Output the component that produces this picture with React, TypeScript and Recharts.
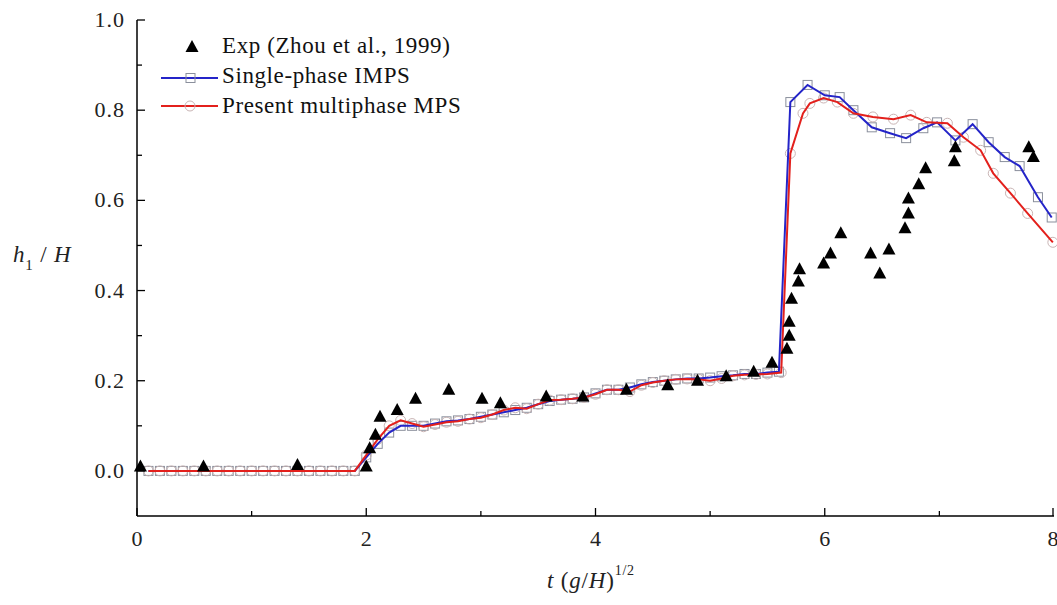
import React from "react";
import { ComposedChart, Scatter, XAxis, YAxis } from "recharts";

// Exp (Zhou et al., 1999)
const EXP_T = [
  0.03, 0.58, 1.4, 2.0, 2.03, 2.08, 2.12, 2.27, 2.43, 2.72, 3.01, 3.17, 3.57, 3.89,
  4.27, 4.63, 4.89, 5.14, 5.38, 5.54, 5.67, 5.69, 5.69, 5.71, 5.77, 5.78, 5.99, 6.05,
  6.14, 6.4, 6.48, 6.56, 6.7, 6.73, 6.73, 6.82, 6.88, 7.13, 7.14, 7.78, 7.82,
];
const EXP_H = [
  0.01, 0.01, 0.013, 0.01, 0.05, 0.08, 0.12, 0.135, 0.16, 0.18, 0.16, 0.15, 0.165, 0.165,
  0.18, 0.19, 0.2, 0.21, 0.22, 0.24, 0.271, 0.3, 0.331, 0.382, 0.42, 0.447, 0.46, 0.482,
  0.527, 0.482, 0.438, 0.491, 0.538, 0.571, 0.604, 0.636, 0.671, 0.687, 0.718, 0.718, 0.696,
];

// Single-phase IMPS
const IMPS_T = [
  0.1, 0.2, 0.3, 0.4, 0.5, 0.6, 0.7, 0.8, 0.9, 1.0, 1.1, 1.2, 1.3, 1.4, 1.5, 1.6, 1.7,
  1.8, 1.9, 2.0, 2.1, 2.2, 2.3, 2.4, 2.5, 2.6, 2.7, 2.8, 2.9, 3.0, 3.1, 3.2, 3.3, 3.4,
  3.5, 3.6, 3.7, 3.8, 3.9, 4.0, 4.1, 4.2, 4.3, 4.4, 4.5, 4.6, 4.7, 4.8, 4.9, 5.0, 5.1,
  5.2, 5.3, 5.4, 5.5, 5.6, 5.7, 5.85, 6.0, 6.13, 6.25, 6.41, 6.57, 6.71, 6.86, 6.98,
  7.14, 7.29, 7.43, 7.57, 7.7, 7.86, 7.98,
];
const IMPS_H = [
  0, 0, 0, 0, 0, 0, 0, 0, 0, 0, 0, 0, 0, 0, 0, 0, 0,
  0, 0, 0.03, 0.06, 0.085, 0.1, 0.1, 0.1, 0.105, 0.11, 0.112, 0.115, 0.12, 0.125, 0.13, 0.135, 0.14,
  0.148, 0.155, 0.158, 0.16, 0.163, 0.172, 0.18, 0.18, 0.185, 0.192, 0.197, 0.2, 0.203, 0.205, 0.205, 0.207, 0.21,
  0.212, 0.215, 0.215, 0.218, 0.22, 0.818, 0.856, 0.833, 0.829, 0.8, 0.762, 0.749, 0.738, 0.76, 0.773,
  0.733, 0.769, 0.729, 0.696, 0.676, 0.607, 0.562,
];

// Present multiphase MPS
const MPS_T = [
  0.1, 0.2, 0.3, 0.4, 0.5, 0.6, 0.7, 0.8, 0.9, 1.0, 1.1, 1.2, 1.3, 1.4, 1.5, 1.6, 1.7,
  1.8, 1.9, 2.0, 2.1, 2.2, 2.3, 2.4, 2.5, 2.6, 2.7, 2.8, 2.9, 3.0, 3.1, 3.2, 3.3, 3.4,
  3.5, 3.6, 3.7, 3.8, 3.9, 4.0, 4.1, 4.2, 4.3, 4.4, 4.5, 4.6, 4.7, 4.8, 4.9, 5.0, 5.1,
  5.2, 5.3, 5.4, 5.5, 5.62, 5.7, 5.81, 5.87, 5.99, 6.11, 6.25, 6.42, 6.6, 6.75, 6.89,
  7.07, 7.21, 7.36, 7.47, 7.62, 7.77, 7.99,
];
const MPS_H = [
  0, 0, 0, 0, 0, 0, 0, 0, 0, 0, 0, 0, 0, 0, 0, 0, 0,
  0, 0, 0.035, 0.07, 0.1, 0.112, 0.105, 0.098, 0.103, 0.108, 0.11, 0.115, 0.118, 0.125, 0.135, 0.14, 0.138,
  0.148, 0.157, 0.158, 0.16, 0.163, 0.17, 0.18, 0.18, 0.176, 0.19, 0.196, 0.2, 0.203, 0.204, 0.203, 0.2, 0.205,
  0.211, 0.213, 0.214, 0.215, 0.218, 0.704, 0.793, 0.815, 0.827, 0.818, 0.793, 0.785, 0.78, 0.789, 0.773,
  0.771, 0.74, 0.711, 0.66, 0.616, 0.571, 0.507,
];

const X_TICKS = [0, 1, 2, 3, 4, 5, 6, 7, 8];
const Y_TICKS = [0, 0.1, 0.2, 0.3, 0.4, 0.5, 0.6, 0.7, 0.8, 0.9, 1.0];

const zip = (t: number[], h: number[]) => t.map((v, i) => ({ t: v, h: h[i] }));
const expData = zip(EXP_T, EXP_H);
const impsData = zip(IMPS_T, IMPS_H);
const mpsData = zip(MPS_T, MPS_H);

const FONT = "Liberation Serif, serif";
const BLUE = "#2424c8";
const RED = "#e3201c";

const Triangle = (p: any) => (
  <path d={`M${p.cx},${p.cy - 7} L${p.cx + 6.5},${p.cy + 5} L${p.cx - 6.5},${p.cy + 5} Z`} fill="#000" />
);
const Square = (p: any) => (
  <rect x={p.cx - 4.5} y={p.cy - 4.5} width={9} height={9} fill="none" stroke="#8a8f9c" strokeWidth={1} />
);
const Circle = (p: any) => (
  <circle cx={p.cx} cy={p.cy} r={5} fill="none" stroke="#c9b4b4" strokeWidth={1} />
);
const NoDot = () => <g />;

const YTick = (props: any) => {
  const { x, y, payload } = props;
  const v = payload.value;
  const major = Math.round(v * 10) % 2 === 0;
  const ax = x + 12;
  return (
    <g>
      <line x1={ax} x2={ax + (major ? 8 : 5)} y1={y} y2={y} stroke="#000" strokeWidth={1.3} />
      {major && (
        <text x={x} y={y + 7} textAnchor="end" style={{ fontFamily: FONT, letterSpacing: 1 }} fontSize={22} fill="#222">
          {v.toFixed(1)}
        </text>
      )}
    </g>
  );
};

const XTick = (props: any) => {
  const { x, y, payload } = props;
  const v = payload.value;
  const major = v % 2 === 0;
  const ay = y - 12;
  return (
    <g>
      <line x1={x} x2={x} y1={ay} y2={ay - (major ? 8 : 5)} stroke="#000" strokeWidth={1.3} />
      {major && (
        <text x={x} y={y + 18} textAnchor="middle" style={{ fontFamily: FONT }} fontSize={22} fill="#222">
          {v}
        </text>
      )}
    </g>
  );
};

const Legend = () => (
  <div style={{ position: "absolute", left: 155, top: 30, fontFamily: FONT, fontSize: 23, color: "#111", letterSpacing: 0.6 }}>
    <svg width={70} height={90} style={{ position: "absolute", left: 0, top: 0 }}>
      <path d="M37,10 L43.5,22 L30.5,22 Z" fill="#000" />
      <line x1={6} x2={63} y1={48} y2={48} stroke={BLUE} strokeWidth={2} />
      <rect x={31} y={43.5} width={9} height={9} fill="none" stroke="#8a8f9c" />
      <line x1={6} x2={63} y1={76} y2={76} stroke={RED} strokeWidth={2} />
      <circle cx={35} cy={76} r={5} fill="none" stroke="#c9b4b4" />
    </svg>
    <div style={{ position: "absolute", left: 67, top: 1, whiteSpace: "nowrap", lineHeight: "30px" }}>
      <div>Exp (Zhou et al., 1999)</div>
      <div>Single-phase IMPS</div>
      <div>Present multiphase MPS</div>
    </div>
  </div>
);

export default function App() {
  return (
    <div style={{ position: "absolute", left: 0, top: 0, width: 1057, height: 605, background: "#fff", fontFamily: FONT }}>
      <ComposedChart width={1057} height={605} margin={{ top: 20, right: 3, bottom: 49, left: 77 }} style={{ fontFamily: FONT }}>
        <XAxis
          xAxisId="b"
          type="number"
          dataKey="t"
          domain={[0, 8]}
          ticks={X_TICKS}
          tick={<XTick />}
          tickLine={false}
          tickSize={0}
          tickMargin={12}
          height={40}
          axisLine={{ stroke: "#000", strokeWidth: 1.5 }}
          label={{
            content: () => (
              <text x={547} y={588} style={{ fontFamily: FONT, letterSpacing: 0.8 }} fontSize={23} fill="#222">
                <tspan fontStyle="italic">t</tspan>
                <tspan> (</tspan>
                <tspan fontStyle="italic">g</tspan>
                <tspan>/</tspan>
                <tspan fontStyle="italic">H</tspan>
                <tspan>)</tspan>
                <tspan fontSize={14} dy={-13}>1/2</tspan>
              </text>
            ),
          }}
        />
        <XAxis
          xAxisId="t"
          orientation="top"
          type="number"
          dataKey="t"
          domain={[0, 8]}
          height={0}
          tick={false}
          tickLine={false}
          axisLine={{ stroke: "#000", strokeWidth: 1.5 }}
        />
        <YAxis
          yAxisId="l"
          type="number"
          dataKey="h"
          domain={[-0.1, 1.0]}
          ticks={Y_TICKS}
          tick={<YTick />}
          tickLine={false}
          tickSize={0}
          tickMargin={12}
          width={60}
          axisLine={{ stroke: "#000", strokeWidth: 1.5 }}
          label={{
            content: () => (
              <text x={13} y={262} style={{ fontFamily: FONT, letterSpacing: 0.8 }} fontSize={23} fill="#222">
                <tspan fontStyle="italic">h</tspan>
                <tspan fontSize={15} dy={8}>1</tspan>
                <tspan dy={-8}> / </tspan>
                <tspan fontStyle="italic">H</tspan>
              </text>
            ),
          }}
        />
        <YAxis
          yAxisId="r"
          orientation="right"
          type="number"
          dataKey="h"
          domain={[-0.1, 1.0]}
          width={0}
          tick={false}
          tickLine={false}
          axisLine={{ stroke: "#000", strokeWidth: 1.5 }}
        />
        <Scatter xAxisId="b" yAxisId="l" data={impsData} shape={Square} isAnimationActive={false} />
        <Scatter xAxisId="b" yAxisId="l" data={mpsData} shape={Circle} isAnimationActive={false} />
        <Scatter
          xAxisId="b"
          yAxisId="l"
          data={impsData}
          shape={NoDot}
          line={{ stroke: BLUE, strokeWidth: 2 }}
          lineType="joint"
          isAnimationActive={false}
        />
        <Scatter
          xAxisId="b"
          yAxisId="l"
          data={mpsData}
          shape={NoDot}
          line={{ stroke: RED, strokeWidth: 2 }}
          lineType="joint"
          isAnimationActive={false}
        />
        <Scatter xAxisId="b" yAxisId="l" data={expData} shape={Triangle} isAnimationActive={false} />
      </ComposedChart>
      <Legend />
    </div>
  );
}
